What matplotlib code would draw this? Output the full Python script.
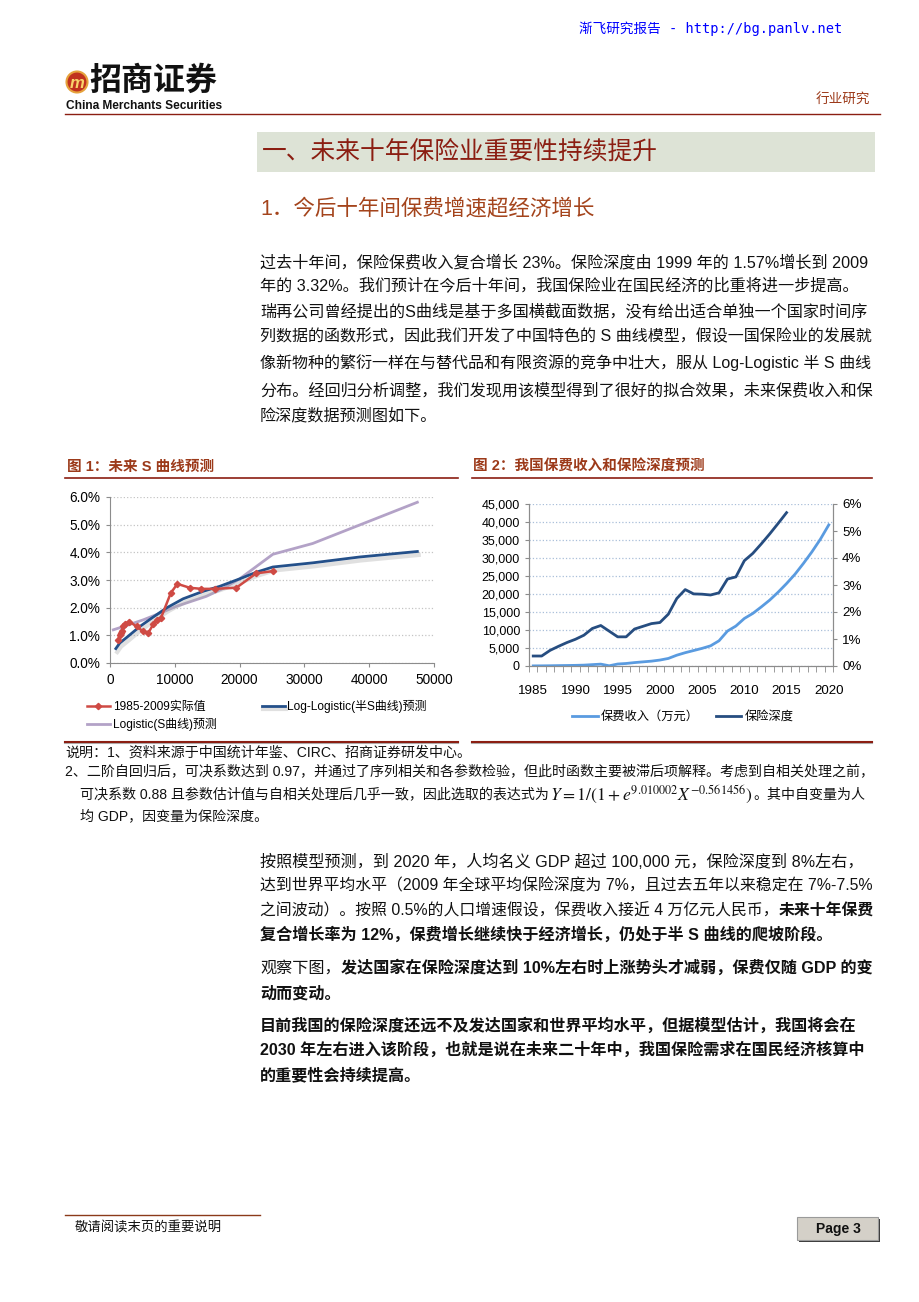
import matplotlib
matplotlib.use("Agg")
import matplotlib.pyplot as plt
import matplotlib.patheffects as pe
from matplotlib.patches import Rectangle, Circle
from matplotlib.ticker import FuncFormatter, MultipleLocator

FONTS = ['Liberation Sans', 'Noto Sans CJK SC', 'DejaVu Sans']
plt.rcParams['font.family'] = FONTS
plt.rcParams['mathtext.fontset'] = 'stix'

# ---- data: figure 1 (GDP per capita vs insurance depth) ----
actual_gdp = [1280, 1500, 1640, 1800, 2050, 2310, 2970, 4100, 5130, 5900, 6670,
              7180, 7850, 9380, 10400, 12300, 14100, 16150, 19500, 22560, 25100]
actual_depth = [0.0084, 0.0100, 0.0108, 0.0114, 0.0135, 0.0141, 0.0150, 0.0132,
                0.0114, 0.0108, 0.0140, 0.0156, 0.0162, 0.0253, 0.0286, 0.0272,
                0.0268, 0.0268, 0.0272, 0.0324, 0.0332]
loglog_gdp = [900, 1500, 2560, 4615, 6670, 8720, 11280, 14360, 16920, 20000,
              22560, 25130, 31280, 38460, 47430]
loglog_depth = [0.0052, 0.0072, 0.0092, 0.0132, 0.0166, 0.0199, 0.0232, 0.0259,
                0.0277, 0.0304, 0.0328, 0.0347, 0.0362, 0.0383, 0.0403]
logistic_gdp = [510, 2500, 5130, 7500, 10260, 14870, 17500, 20000, 25130, 31280, 47430]
logistic_depth = [0.0120, 0.0135, 0.0156, 0.0178, 0.0205, 0.0241, 0.0270, 0.0304,
                  0.0393, 0.0432, 0.0581]
fig1_labels = ['1985-2009实际值', 'Log-Logistic(半S曲线)预测', 'Logistic(S曲线)预测']

# ---- data: figure 2 (premium income and insurance depth by year) ----
years = list(range(1985, 2021))
premium = [30, 45, 70, 110, 140, 180, 240, 380, 520, 60, 550, 700, 950, 1150,
           1350, 1650, 2100, 3000, 3700, 4300, 4900, 5600, 7000, 9700, 11100,
           13200, 14600, 16400, 18300, 20500, 22900, 25500, 28500, 31700, 35200, 39200]
depth_years = list(range(1985, 2016))
depth = [0.0037, 0.0037, 0.0058, 0.0073, 0.0087, 0.0099, 0.0114, 0.0139, 0.0150,
         0.0129, 0.0108, 0.0108, 0.0137, 0.0147, 0.0157, 0.0161, 0.0192, 0.0250,
         0.0283, 0.0267, 0.0266, 0.0263, 0.0271, 0.0322, 0.0330, 0.0390, 0.0417,
         0.0452, 0.0489, 0.0528, 0.0568]
fig2_labels = ['保费收入（万元）', '保险深度']

W, H = 920, 1302
fig = plt.figure(figsize=(W / 100, H / 100), dpi=100)
page = fig.add_axes([0, 0, 1, 1])
page.set_xlim(0, W)
page.set_ylim(H, 0)
page.set_axis_off()
rend = fig.canvas.get_renderer()

DARKRED = '#8b1e12'
BROWN = '#9c3a1a'


def rect(x0, y0, x1, y1):
    return [x0 / W, 1 - y1 / H, (x1 - x0) / W, (y1 - y0) / H]


def runs(x, y, parts, size=11.6, color='#111111', right=None):
    # draw text pieces one after another on a line; shrink if past `right`
    x0 = x
    drawn = []
    for s, bold in parts:
        t = page.text(x, y, s, fontsize=size, color=color, ha='left', va='center',
                      fontweight='bold' if bold else 'normal')
        drawn.append(t)
        x += t.get_window_extent(renderer=rend).width
    if right is not None and x > right:
        for t in drawn:
            t.remove()
        return runs(x0, y, parts, size * (right - x0) / (x - x0), color)
    return x


# ---- page header ----
page.text(842, 29, '渐飞研究报告 - http://bg.panlv.net', ha='right', va='center',
          fontsize=9.8, color='#0000ff',
          family=['DejaVu Sans Mono', 'Noto Sans CJK SC'])
page.add_patch(Circle((77, 82), 10.5, fc='#c0321e', ec='#e6a23c', lw=1.5))
page.text(77, 83, 'm', ha='center', va='center', fontsize=12, fontweight='bold',
          style='italic', color='#f8d46a')
page.text(89, 82, '招商证券', ha='left', va='center', fontsize=23,
          fontweight='bold', color='#111111')
page.text(66, 106, 'China Merchants Securities', ha='left', va='center',
          fontsize=8.6, fontweight='bold', color='#111111',
          family=['Liberation Sans Narrow', 'Liberation Sans'])
page.text(870, 100, '行业研究', ha='right', va='center', fontsize=9.8, color=BROWN)
page.plot([65, 880], [114, 114], color=DARKRED, lw=1)

# ---- section headings ----
page.add_patch(Rectangle((257, 132), 618, 40, fc='#dde3d6', ec='none'))
page.text(262, 152, '一、未来十年保险业重要性持续提升', ha='left', va='center',
          fontsize=17.8, color=DARKRED)
page.text(260, 209, '1．今后十年间保费增速超经济增长', ha='left', va='center',
          fontsize=15.5, color='#a4441c')

body1 = [
    (262, '过去十年间，保险保费收入复合增长 23%。保险深度由 1999 年的 1.57%增长到 2009'),
    (285, '年的 3.32%。我们预计在今后十年间，我国保险业在国民经济的比重将进一步提高。'),
    (311, '瑞再公司曾经提出的S曲线是基于多国横截面数据，没有给出适合单独一个国家时间序'),
    (337, '列数据的函数形式，因此我们开发了中国特色的 S 曲线模型，假设一国保险业的发展就'),
    (363, '像新物种的繁衍一样在与替代品和有限资源的竞争中壮大，服从 Log-Logistic 半 S 曲线'),
    (390, '分布。经回归分析调整，我们发现用该模型得到了很好的拟合效果，未来保费收入和保'),
    (416, '险深度数据预测图如下。'),
]
for y, s in body1:
    runs(260, y, [(s, False)], right=873)

# ---- figure titles and rules ----
page.text(67, 467, '图 1：未来 S 曲线预测', ha='left', va='center', fontsize=10.5,
          fontweight='bold', color=BROWN)
page.text(473, 467, '图 2：我国保费收入和保险深度预测', ha='left', va='center',
          fontsize=10.5, fontweight='bold', color=BROWN)
for x0, x1 in [(65, 458), (472, 872)]:
    page.plot([x0, x1], [478, 478], color=DARKRED, lw=1.2)
    page.plot([x0, x1], [743, 743], color='#b0b0b0', lw=1.5)
    page.plot([x0, x1], [742, 742], color=DARKRED, lw=1.5)

# ---- figure 1 ----
ax1 = fig.add_axes(rect(110, 497, 434, 663))
shadow = [pe.SimpleLineShadow(offset=(1, -2.5), shadow_color='#a8a8a8',
                              alpha=0.35, linewidth=3), pe.Normal()]
l_logi, = ax1.plot(logistic_gdp, logistic_depth, color='#b3a2c7', lw=2)
l_log, = ax1.plot(loglog_gdp, loglog_depth, color='#24508a', lw=2,
                  path_effects=shadow)
l_act, = ax1.plot(actual_gdp, actual_depth, color='#cf4a44', lw=1.8,
                  marker='D', ms=3.2)
ax1.set_xlim(0, 50000)
ax1.set_ylim(0, 0.06)
ax1.yaxis.set_major_locator(MultipleLocator(0.01))
ax1.xaxis.set_major_locator(MultipleLocator(10000))
ax1.yaxis.set_major_formatter(FuncFormatter(lambda v, p: f'{v * 100:.1f}%'))
ax1.grid(axis='y', ls=':', color='#c4c4c4', lw=0.9)
ax1.set_axisbelow(True)
for s in ['top', 'right']:
    ax1.spines[s].set_visible(False)
for s in ['left', 'bottom']:
    ax1.spines[s].set_color('#8c8c8c')
ax1.tick_params(direction='out', length=3, color='#8c8c8c', labelsize=9.8, pad=4)

fig.legend([l_act, l_logi, l_log], [fig1_labels[0], fig1_labels[2], fig1_labels[1]],
           ncol=2, loc='upper left', bbox_to_anchor=(87, 700),
           bbox_transform=page.transData, frameon=False, fontsize=8.6,
           borderpad=0, borderaxespad=0, handlelength=1.9, handletextpad=0.25,
           labelspacing=0.45, columnspacing=3.8)

# ---- figure 2 ----
ax2 = fig.add_axes(rect(529, 504, 833, 666))
l_prem, = ax2.plot(years, premium, color='#5a9be0', lw=2)
ax2r = ax2.twinx()
l_dep, = ax2r.plot(depth_years, depth, color='#264d80', lw=2)
ax2.set_xlim(1984.5, 2020.5)
ax2.set_ylim(0, 45000)
ax2r.set_ylim(0, 0.06)
ax2.yaxis.set_major_locator(MultipleLocator(5000))
ax2.yaxis.set_major_formatter(FuncFormatter(lambda v, p: f'{v:,.0f}'))
ax2r.yaxis.set_major_locator(MultipleLocator(0.01))
ax2r.yaxis.set_major_formatter(FuncFormatter(lambda v, p: f'{v * 100:.0f}%'))
ax2.set_xticks(years[::5])
ax2.set_xticks([y - 0.5 for y in years] + [2020.5], minor=True)
ax2.grid(axis='y', ls=':', color='#a9bfd9', lw=0.9)
ax2.tick_params(axis='x', which='major', length=0, labelsize=9.6, pad=14)
ax2.tick_params(axis='x', which='minor', length=4, direction='out', color='#8c8c8c')
ax2.tick_params(axis='y', length=3, direction='out', color='#8c8c8c', labelsize=9)
ax2r.tick_params(axis='y', length=3, direction='out', color='#8c8c8c', labelsize=9.6)
for a in (ax2, ax2r):
    a.spines['top'].set_visible(False)
    for s in ['left', 'right', 'bottom']:
        a.spines[s].set_color('#8c8c8c')

fig.legend([l_prem, l_dep], fig2_labels, ncol=2, loc='center left',
           bbox_to_anchor=(572, 717), bbox_transform=page.transData, frameon=False,
           fontsize=8.8, borderpad=0, borderaxespad=0, handlelength=2.1,
           handletextpad=0.25, columnspacing=1.4)

# ---- notes ----
page.text(65, 753, '说明：1、资料来源于中国统计年鉴、CIRC、招商证券研发中心。',
          ha='left', va='center', fontsize=10.1, color='#111111')
page.text(65, 772, '2、二阶自回归后，可决系数达到 0.97，并通过了序列相关和各参数检验，'
          '但此时函数主要被滞后项解释。考虑到自相关处理之前，',
          ha='left', va='center', fontsize=10.1, color='#111111')
x = runs(80, 795, [('可决系数 0.88 且参数估计值与自相关处理后几乎一致，因此选取的表达式为',
                    False)], size=10.1)
t = page.text(x + 1, 795, r'$Y=1/\left(1+e^{9.010002}X^{-0.561456}\right)$',
              ha='left', va='center', fontsize=12.6, color='#111111')
x = x + 2 + t.get_window_extent(renderer=rend).width
runs(x, 795, [('。其中自变量为人', False)], size=10.1)
page.text(80, 816, '均 GDP，因变量为保险深度。', ha='left', va='center',
          fontsize=10.1, color='#111111')

# ---- body text below the figures ----
body2 = [
    (862, [('按照模型预测，到 2020 年，人均名义 GDP 超过 100,000 元，保险深度到 8%左右，', False)]),
    (886, [('达到世界平均水平（2009 年全球平均保险深度为 7%，且过去五年以来稳定在 7%-7.5%', False)]),
    (911, [('之间波动）。按照 0.5%的人口增速假设，保费收入接近 4 万亿元人民币，', False),
           ('未来十年保费', True)]),
    (935, [('复合增长率为 12%，保费增长继续快于经济增长，仍处于半 S 曲线的爬坡阶段。', True)]),
    (968, [('观察下图，', False),
           ('发达国家在保险深度达到 10%左右时上涨势头才减弱，保费仅随 GDP 的变', True)]),
    (994, [('动而变动。', True)]),
    (1026, [('目前我国的保险深度还远不及发达国家和世界平均水平，但据模型估计，我国将会在', True)]),
    (1050, [('2030 年左右进入该阶段，也就是说在未来二十年中，我国保险需求在国民经济核算中', True)]),
    (1075, [('的重要性会持续提高。', True)]),
]
for y, parts in body2:
    runs(260, y, parts, right=873)

# ---- footer ----
page.plot([65, 260], [1215, 1215], color='#8b3a1a', lw=1)
page.text(75, 1228, '敬请阅读末页的重要说明', ha='left', va='center', fontsize=9.6,
          color='#111111')
page.add_patch(Rectangle((799, 1219), 81, 23, fc='#3a3a3a', ec='none'))
page.add_patch(Rectangle((797, 1217), 81, 23, fc='#d4d0c8', ec='#9a9a9a', lw=0.8))
page.text(838, 1229, 'Page 3', ha='center', va='center', fontsize=10,
          fontweight='bold', color='#111111')

fig.savefig('out.png', dpi=100)
